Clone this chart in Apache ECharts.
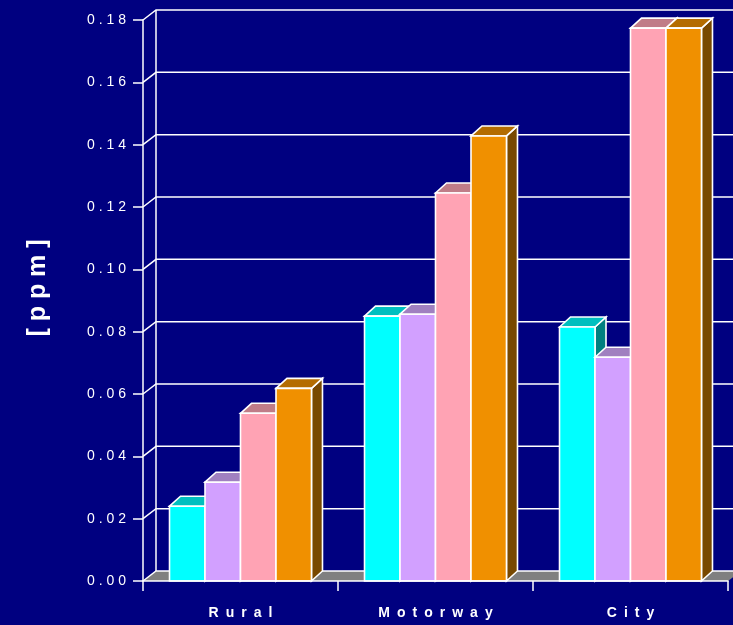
<!DOCTYPE html>
<html>
<head>
<meta charset="utf-8">
<script src="https://cdn.jsdelivr.net/npm/echarts@6/dist/echarts.min.js"></script>
<style>
  html, body { margin: 0; padding: 0; background: #000080; }
  #chart { width: 733px; height: 625px; }
</style>
</head>
<body>
<div id="chart"></div>
<script>
// Concentration by driving situation
const categories = ['Rural', 'Motorway', 'City'];
const seriesA = [0.0240, 0.0850, 0.0815];   // cyan
const seriesB = [0.0317, 0.0856, 0.0718];   // lavender
const seriesC = [0.0538, 0.1245, 0.1774];   // pink
const seriesD = [0.0618, 0.1428, 0.1774];   // orange
const yTicks = [0, 0.02, 0.04, 0.06, 0.08, 0.10, 0.12, 0.14, 0.16, 0.18];

const barSets = [seriesA, seriesB, seriesC, seriesD];
const faceColors = [
  { front: '#00FFFF', top: '#00BFBF', side: '#008080' },
  { front: '#D2A0FF', top: '#A080C0', side: '#6A5080' },
  { front: '#FFA3B4', top: '#C07C88', side: '#80525A' },
  { front: '#F09000', top: '#B46C00', side: '#784800' }
];

// depth offsets of the pseudo-3D box (walls) and of the columns
const WALL_DX = 13, WALL_DY = 10;
const BAR_DX = 11, BAR_DY = 10;
const BAR_FRACTION = 0.182;

const spaced = (s, sep) => s.split('').join(sep);

const chart = echarts.init(document.getElementById('chart'), null, { renderer: 'canvas' });

function renderWall(params, api) {
  const cs = params.coordSys;
  const v = api.value(1);
  const y = api.coord([0, v])[1];
  const x0 = cs.x;
  const x1 = cs.x + cs.width;
  const children = [];
  if (v === 0) {
    children.push({
      type: 'polygon',
      shape: { points: [[x0, y], [x0 + WALL_DX, y - WALL_DY], [x1 + WALL_DX, y - WALL_DY], [x1, y]] },
      style: { fill: '#808080', stroke: null }
    });
    // back wall left edge
    const yTop = api.coord([0, yTicks[yTicks.length - 1]])[1];
    children.push({
      type: 'line',
      shape: { x1: x0 + WALL_DX, y1: y - WALL_DY, x2: x0 + WALL_DX, y2: yTop - WALL_DY },
      style: { stroke: '#FFFFFF', lineWidth: 1.5 }
    });
  }
  children.push({
    type: 'polyline',
    shape: { points: [[x0, y], [x0 + WALL_DX, y - WALL_DY], [x1 + WALL_DX, y - WALL_DY]] },
    style: { stroke: '#FFFFFF', lineWidth: 1.5, fill: null }
  });
  return { type: 'group', children: children };
}

function renderBar(params, api) {
  const k = params.seriesIndex - 1;
  const c = faceColors[k];
  const cat = api.value(0);
  const val = api.value(1);
  const base = api.coord([cat, 0]);
  const top = api.coord([cat, val])[1];
  const catW = api.size([1, 0])[0];
  const w = catW * BAR_FRACTION;
  const x = base[0] - 2 * w + k * w;
  const yb = base[1];
  const stroke = { stroke: '#FFFFFF', lineWidth: 1.6, lineJoin: 'miter' };
  return {
    type: 'group',
    children: [
      {
        type: 'polygon',
        shape: { points: [[x + w, top], [x + w + BAR_DX, top - BAR_DY], [x + w + BAR_DX, yb - BAR_DY], [x + w, yb]] },
        style: Object.assign({ fill: c.side }, stroke)
      },
      {
        type: 'polygon',
        shape: { points: [[x, top], [x + BAR_DX, top - BAR_DY], [x + w + BAR_DX, top - BAR_DY], [x + w, top]] },
        style: Object.assign({ fill: c.top }, stroke)
      },
      {
        type: 'rect',
        shape: { x: x, y: top, width: w, height: yb - top },
        style: Object.assign({ fill: c.front }, stroke)
      }
    ]
  };
}

const series = [{
  type: 'custom',
  name: 'wall',
  renderItem: renderWall,
  clip: false,
  silent: true,
  z: 1,
  encode: { x: 0, y: 1 },
  data: yTicks.map(v => [0, v])
}];
barSets.forEach((vals, i) => {
  series.push({
    type: 'custom',
    name: 'S' + (i + 1),
    renderItem: renderBar,
    clip: false,
    z: 2,
    encode: { x: 0, y: 1 },
    data: vals.map((v, j) => [j, v])
  });
});

chart.setOption({
  backgroundColor: '#000080',
  animation: false,
  grid: { left: 143, right: 5, top: 20, bottom: 44 },
  xAxis: {
    type: 'category',
    data: categories,
    boundaryGap: true,
    z: 5,
    axisLine: { show: true, lineStyle: { color: '#FFFFFF', width: 1.5 } },
    axisTick: { show: true, length: 10, alignWithLabel: false, lineStyle: { color: '#FFFFFF', width: 1.5 } },
    axisLabel: {
      color: '#FFFFFF',
      fontFamily: 'Liberation Sans',
      fontWeight: 'bold',
      fontSize: 14,
      margin: 25,
      formatter: v => spaced(v, '\u2002')
    },
    splitLine: { show: false }
  },
  yAxis: {
    type: 'value',
    min: 0,
    max: 0.18,
    interval: 0.02,
    z: 5,
    axisLine: { show: true, lineStyle: { color: '#FFFFFF', width: 1.5 } },
    axisTick: { show: true, length: 10, lineStyle: { color: '#FFFFFF', width: 1.5 } },
    axisLabel: {
      color: '#FFFFFF',
      fontFamily: 'Liberation Sans',
      fontSize: 14,
      margin: 17,
      formatter: v => spaced(v.toFixed(2), ' ')
    },
    splitLine: { show: false }
  },
  graphic: [{
    type: 'text',
    x: 38,
    y: 288,
    rotation: Math.PI / 2,
    style: {
      text: spaced('[ppm]', ' '),
      fill: '#FFFFFF',
      font: 'bold 25px "Liberation Sans"',
      textAlign: 'center',
      textVerticalAlign: 'middle'
    }
  }],
  series: series
});
</script>
</body>
</html>
